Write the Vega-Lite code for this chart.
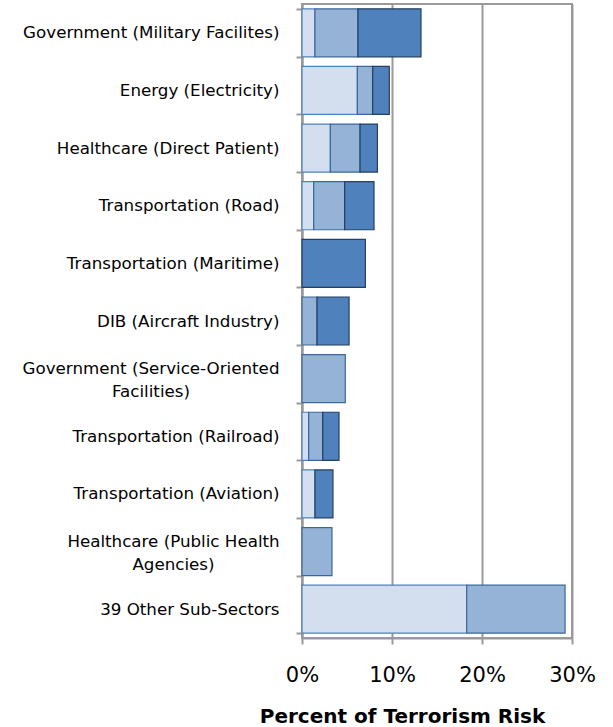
{
  "$schema": "https://vega.github.io/schema/vega-lite/v6.json",
  "width": 270,
  "height": 634,
  "autosize": "none",
  "padding": {"left": 302, "top": 4, "right": 41, "bottom": 89},
  "background": "white",
  "config": {
    "view": {"stroke": "#9A9A9A", "strokeWidth": 2},
    "font": "DejaVu Sans"
  },
  "data": {
    "values": [
      {"sector": "Government (Military Facilites)", "series": 1, "risk": 1.44},
      {"sector": "Government (Military Facilites)", "series": 2, "risk": 4.78},
      {"sector": "Government (Military Facilites)", "series": 3, "risk": 7.0},
      {"sector": "Energy (Electricity)", "series": 1, "risk": 6.15},
      {"sector": "Energy (Electricity)", "series": 2, "risk": 1.7},
      {"sector": "Energy (Electricity)", "series": 3, "risk": 1.85},
      {"sector": "Healthcare (Direct Patient)", "series": 1, "risk": 3.15},
      {"sector": "Healthcare (Direct Patient)", "series": 2, "risk": 3.3},
      {"sector": "Healthcare (Direct Patient)", "series": 3, "risk": 1.93},
      {"sector": "Transportation (Road)", "series": 1, "risk": 1.3},
      {"sector": "Transportation (Road)", "series": 2, "risk": 3.44},
      {"sector": "Transportation (Road)", "series": 3, "risk": 3.26},
      {"sector": "Transportation (Maritime)", "series": 3, "risk": 7.04},
      {"sector": "DIB (Aircraft Industry)", "series": 2, "risk": 1.67},
      {"sector": "DIB (Aircraft Industry)", "series": 3, "risk": 3.56},
      {"sector": "Government (Service-Oriented Facilities)", "series": 2, "risk": 4.81},
      {"sector": "Transportation (Railroad)", "series": 1, "risk": 0.74},
      {"sector": "Transportation (Railroad)", "series": 2, "risk": 1.56},
      {"sector": "Transportation (Railroad)", "series": 3, "risk": 1.81},
      {"sector": "Transportation (Aviation)", "series": 1, "risk": 1.44},
      {"sector": "Transportation (Aviation)", "series": 3, "risk": 2.0},
      {"sector": "Healthcare (Public Health Agencies)", "series": 2, "risk": 3.33},
      {"sector": "39 Other Sub-Sectors", "series": 1, "risk": 18.3},
      {"sector": "39 Other Sub-Sectors", "series": 2, "risk": 10.93}
    ]
  },
  "mark": {"type": "bar", "strokeWidth": 1.2},
  "encoding": {
    "y": {
      "field": "sector",
      "type": "nominal",
      "sort": null,
      "scale": {"paddingInner": 0.167, "paddingOuter": 0.0835},
      "axis": {
        "title": null,
        "domainColor": "#9A9A9A",
        "domainWidth": 2,
        "tickColor": "#9A9A9A",
        "tickWidth": 2,
        "tickSize": 6,
        "tickBand": "extent",
        "labelFontSize": 16.7,
        "labelColor": "#000000",
        "labelLineHeight": 23,
        "labelLimit": 400,
        "labelAlign": {"condition": {"test": "datum.value == 'Government (Service-Oriented Facilities)' || datum.value == 'Healthcare (Public Health Agencies)'", "value": "center"}, "value": "right"},
        "labelOffset": {"condition": {"test": "datum.value == 'Government (Service-Oriented Facilities)' || datum.value == 'Healthcare (Public Health Agencies)'", "value": -10}, "value": 0},
        "labelPadding": {"condition": [
          {"test": "datum.value == 'Government (Service-Oriented Facilities)'", "value": 145.5},
          {"test": "datum.value == 'Healthcare (Public Health Agencies)'", "value": 123}
        ], "value": 17},
        "labelExpr": "datum.value == 'Government (Service-Oriented Facilities)' ? ['Government (Service-Oriented', 'Facilities)'] : datum.value == 'Healthcare (Public Health Agencies)' ? ['Healthcare (Public Health', 'Agencies)'] : datum.value"
      }
    },
    "x": {
      "field": "risk",
      "type": "quantitative",
      "stack": "zero",
      "scale": {"domain": [0, 30], "nice": false},
      "axis": {
        "values": [0, 10, 20, 30],
        "labelExpr": "datum.value + '%'",
        "grid": true,
        "gridColor": "#9A9A9A",
        "gridWidth": 2,
        "domainColor": "#9A9A9A",
        "domainWidth": 2,
        "tickColor": "#9A9A9A",
        "tickWidth": 2,
        "tickSize": 6,
        "labelFontSize": 21,
        "labelColor": "#000000",
        "labelPadding": 20,
        "labelFlush": false,
        "title": "Percent of Terrorism Risk",
        "titleFontSize": 20,
        "titleFontWeight": "bold",
        "titleColor": "#000000",
        "titleX": 100,
        "titleY": 84,
        "titleAlign": "center",
        "titleBaseline": "alphabetic"
      }
    },
    "color": {
      "field": "series",
      "type": "ordinal",
      "scale": {"domain": [1, 2, 3], "range": ["#D3DFEE", "#95B3D7", "#4F81BD"]},
      "legend": null
    },
    "stroke": {
      "field": "series",
      "type": "ordinal",
      "scale": {"domain": [1, 2, 3], "range": ["#4F81BD", "#3C679B", "#243F60"]},
      "legend": null
    },
    "order": {"field": "series", "type": "quantitative"}
  }
}
